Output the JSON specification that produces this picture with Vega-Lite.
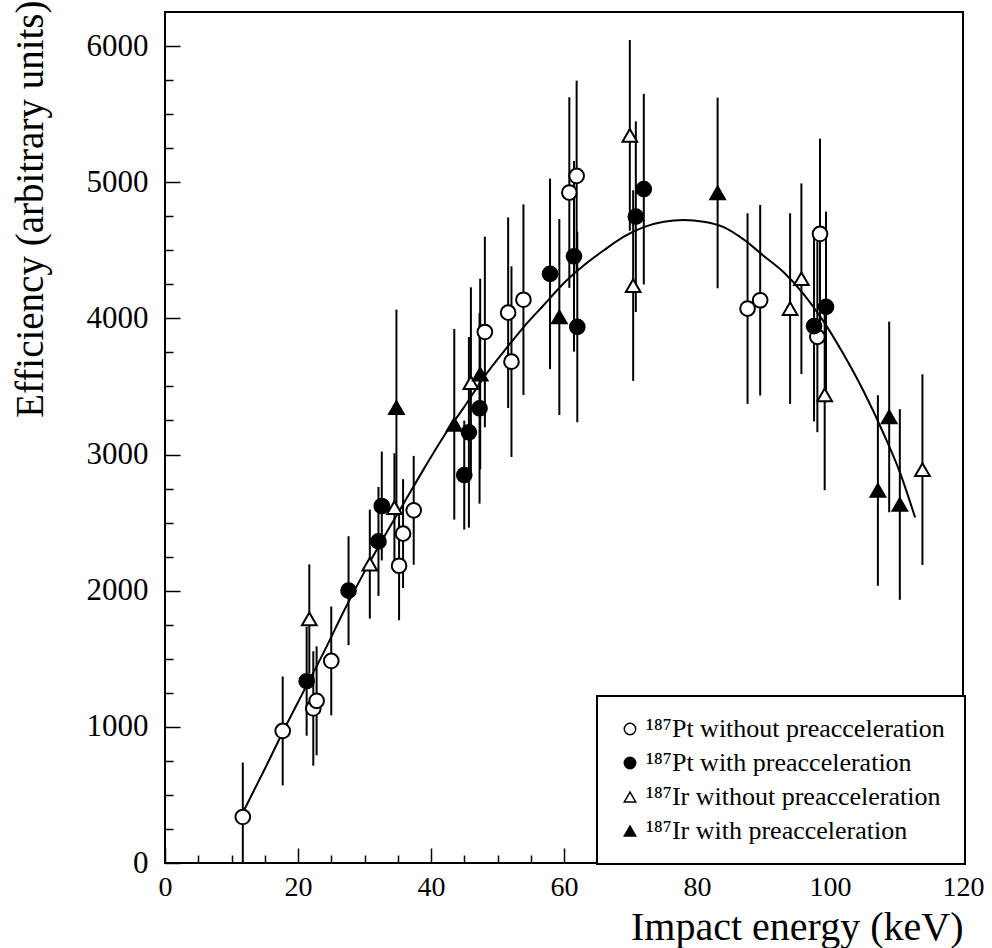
{
  "$schema": "https://vega.github.io/schema/vega-lite/v6.json",
  "width": 798,
  "height": 851,
  "autosize": {"type": "none"},
  "padding": {"left": 165, "top": 12, "right": 29, "bottom": 85},
  "background": "white",
  "config": {
    "view": {"stroke": "black", "strokeWidth": 2},
    "font": "Liberation Serif",
    "legend": {"labelFont": "Liberation Serif", "strokeWidth": 2}
  },
  "resolve": {"axis": {"x": "independent", "y": "independent"}},
  "datasets": {
    "pts": [
      {"E": 11.7, "eff": 338, "lo": -62, "hi": 738, "series": "¹⁸⁷Pt without preacceleration"},
      {"E": 17.7, "eff": 970, "lo": 570, "hi": 1370, "series": "¹⁸⁷Pt without preacceleration"},
      {"E": 22.3, "eff": 1135, "lo": 715, "hi": 1555, "series": "¹⁸⁷Pt without preacceleration"},
      {"E": 22.8, "eff": 1191, "lo": 791, "hi": 1591, "series": "¹⁸⁷Pt without preacceleration"},
      {"E": 25.0, "eff": 1484, "lo": 1084, "hi": 1884, "series": "¹⁸⁷Pt without preacceleration"},
      {"E": 35.2, "eff": 2183, "lo": 1783, "hi": 2583, "series": "¹⁸⁷Pt without preacceleration"},
      {"E": 35.8, "eff": 2419, "lo": 2019, "hi": 2819, "series": "¹⁸⁷Pt without preacceleration"},
      {"E": 37.4, "eff": 2590, "lo": 2190, "hi": 2990, "series": "¹⁸⁷Pt without preacceleration"},
      {"E": 48.1, "eff": 3900, "lo": 3200, "hi": 4600, "series": "¹⁸⁷Pt without preacceleration"},
      {"E": 51.6, "eff": 4042, "lo": 3342, "hi": 4742, "series": "¹⁸⁷Pt without preacceleration"},
      {"E": 52.1, "eff": 3682, "lo": 2982, "hi": 4382, "series": "¹⁸⁷Pt without preacceleration"},
      {"E": 53.9, "eff": 4137, "lo": 3437, "hi": 4837, "series": "¹⁸⁷Pt without preacceleration"},
      {"E": 60.8, "eff": 4924, "lo": 4224, "hi": 5624, "series": "¹⁸⁷Pt without preacceleration"},
      {"E": 61.9, "eff": 5046, "lo": 4346, "hi": 5746, "series": "¹⁸⁷Pt without preacceleration"},
      {"E": 87.6, "eff": 4072, "lo": 3372, "hi": 4772, "series": "¹⁸⁷Pt without preacceleration"},
      {"E": 89.5, "eff": 4133, "lo": 3433, "hi": 4833, "series": "¹⁸⁷Pt without preacceleration"},
      {"E": 98.5, "eff": 4620, "lo": 3920, "hi": 5320, "series": "¹⁸⁷Pt without preacceleration"},
      {"E": 98.1, "eff": 3864, "lo": 3164, "hi": 4564, "series": "¹⁸⁷Pt without preacceleration"},
      {"E": 21.3, "eff": 1335, "lo": 935, "hi": 1735, "series": "¹⁸⁷Pt with preacceleration"},
      {"E": 27.6, "eff": 2000, "lo": 1600, "hi": 2400, "series": "¹⁸⁷Pt with preacceleration"},
      {"E": 32.1, "eff": 2362, "lo": 1962, "hi": 2762, "series": "¹⁸⁷Pt with preacceleration"},
      {"E": 32.6, "eff": 2622, "lo": 2222, "hi": 3022, "series": "¹⁸⁷Pt with preacceleration"},
      {"E": 45.0, "eff": 2849, "lo": 2449, "hi": 3249, "series": "¹⁸⁷Pt with preacceleration"},
      {"E": 45.7, "eff": 3163, "lo": 2463, "hi": 3863, "series": "¹⁸⁷Pt with preacceleration"},
      {"E": 47.3, "eff": 3339, "lo": 2639, "hi": 4039, "series": "¹⁸⁷Pt with preacceleration"},
      {"E": 57.9, "eff": 4327, "lo": 3627, "hi": 5027, "series": "¹⁸⁷Pt with preacceleration"},
      {"E": 61.5, "eff": 4456, "lo": 3756, "hi": 5156, "series": "¹⁸⁷Pt with preacceleration"},
      {"E": 62.0, "eff": 3937, "lo": 3237, "hi": 4637, "series": "¹⁸⁷Pt with preacceleration"},
      {"E": 70.8, "eff": 4747, "lo": 4047, "hi": 5447, "series": "¹⁸⁷Pt with preacceleration"},
      {"E": 72.0, "eff": 4949, "lo": 4249, "hi": 5649, "series": "¹⁸⁷Pt with preacceleration"},
      {"E": 97.6, "eff": 3943, "lo": 3243, "hi": 4643, "series": "¹⁸⁷Pt with preacceleration"},
      {"E": 99.4, "eff": 4084, "lo": 3384, "hi": 4784, "series": "¹⁸⁷Pt with preacceleration"},
      {"E": 21.7, "eff": 1793, "lo": 1393, "hi": 2193, "series": "¹⁸⁷Ir without preacceleration"},
      {"E": 30.8, "eff": 2195, "lo": 1795, "hi": 2595, "series": "¹⁸⁷Ir without preacceleration"},
      {"E": 34.5, "eff": 2610, "lo": 2210, "hi": 3010, "series": "¹⁸⁷Ir without preacceleration"},
      {"E": 46.0, "eff": 3528, "lo": 2828, "hi": 4228, "series": "¹⁸⁷Ir without preacceleration"},
      {"E": 69.9, "eff": 5344, "lo": 4644, "hi": 6044, "series": "¹⁸⁷Ir without preacceleration"},
      {"E": 70.4, "eff": 4241, "lo": 3541, "hi": 4941, "series": "¹⁸⁷Ir without preacceleration"},
      {"E": 94.0, "eff": 4072, "lo": 3372, "hi": 4772, "series": "¹⁸⁷Ir without preacceleration"},
      {"E": 95.7, "eff": 4291, "lo": 3591, "hi": 4991, "series": "¹⁸⁷Ir without preacceleration"},
      {"E": 99.2, "eff": 3438, "lo": 2738, "hi": 4138, "series": "¹⁸⁷Ir without preacceleration"},
      {"E": 113.9, "eff": 2889, "lo": 2189, "hi": 3589, "series": "¹⁸⁷Ir without preacceleration"},
      {"E": 34.8, "eff": 3344, "lo": 2624, "hi": 4064, "series": "¹⁸⁷Ir with preacceleration"},
      {"E": 43.5, "eff": 3222, "lo": 2522, "hi": 3922, "series": "¹⁸⁷Ir with preacceleration"},
      {"E": 47.4, "eff": 3591, "lo": 2891, "hi": 4291, "series": "¹⁸⁷Ir with preacceleration"},
      {"E": 59.3, "eff": 4010, "lo": 3290, "hi": 4730, "series": "¹⁸⁷Ir with preacceleration"},
      {"E": 83.1, "eff": 4921, "lo": 4221, "hi": 5621, "series": "¹⁸⁷Ir with preacceleration"},
      {"E": 107.2, "eff": 2736, "lo": 2036, "hi": 3436, "series": "¹⁸⁷Ir with preacceleration"},
      {"E": 108.9, "eff": 3276, "lo": 2576, "hi": 3976, "series": "¹⁸⁷Ir with preacceleration"},
      {"E": 110.5, "eff": 2633, "lo": 1933, "hi": 3333, "series": "¹⁸⁷Ir with preacceleration"}
    ],
    "fit": [
      {"E": 11.8, "eff": 380}, {"E": 15, "eff": 690}, {"E": 18, "eff": 990},
      {"E": 21, "eff": 1275}, {"E": 24, "eff": 1560}, {"E": 27, "eff": 1860},
      {"E": 30, "eff": 2140}, {"E": 33, "eff": 2400}, {"E": 36, "eff": 2650},
      {"E": 39, "eff": 2900}, {"E": 42, "eff": 3140}, {"E": 45, "eff": 3350},
      {"E": 48, "eff": 3570}, {"E": 51, "eff": 3760}, {"E": 54, "eff": 3940},
      {"E": 57, "eff": 4100}, {"E": 60, "eff": 4260}, {"E": 63, "eff": 4390},
      {"E": 66, "eff": 4500}, {"E": 69, "eff": 4600}, {"E": 72, "eff": 4670},
      {"E": 75, "eff": 4710}, {"E": 78, "eff": 4722}, {"E": 81, "eff": 4710},
      {"E": 84, "eff": 4670}, {"E": 87, "eff": 4580}, {"E": 90, "eff": 4460},
      {"E": 93, "eff": 4340}, {"E": 96, "eff": 4180}, {"E": 99, "eff": 3980},
      {"E": 102, "eff": 3740}, {"E": 105, "eff": 3470}, {"E": 108, "eff": 3160},
      {"E": 110.5, "eff": 2870}, {"E": 112.8, "eff": 2537}
    ]
  },
  "layer": [
    {
      "data": {"name": "pts"},
      "mark": {"type": "rule", "color": "black", "strokeWidth": 2, "clip": true},
      "encoding": {
        "x": {
          "field": "E", "type": "quantitative", "title": "Impact energy (keV)",
          "scale": {"domain": [0, 120], "nice": false, "zero": false},
          "axis": {
            "orient": "bottom",
            "values": [0, 20, 40, 60, 80, 100, 120],
            "format": "d",
            "grid": false, "ticks": true, "domain": false, "offset": -15,
            "tickColor": "black", "tickWidth": 1.5, "tickSize": 15,
            "labelFont": "Liberation Serif", "labelFontSize": 28, "labelColor": "black",
            "labelPadding": 10, "labelOverlap": false, "labelFlush": false,
            "titleFont": "Liberation Serif", "titleFontSize": 40, "titleFontWeight": "normal", "titleColor": "black",
            "titleX": 798, "titleY": 91, "titleAlign": "right", "titleBaseline": "alphabetic", "titleAnchor": "end"
          }
        },
        "y": {
          "field": "lo", "type": "quantitative", "title": "Efficiency (arbitrary units)",
          "scale": {"domain": [0, 6250], "nice": false, "zero": false},
          "axis": {
            "orient": "left",
            "values": [0, 1000, 2000, 3000, 4000, 5000, 6000],
            "format": "d",
            "grid": false, "ticks": true, "domain": false, "offset": -15,
            "tickColor": "black", "tickWidth": 1.5, "tickSize": 15,
            "labelFont": "Liberation Serif", "labelFontSize": 31, "labelColor": "black",
            "labelPadding": 17, "labelOverlap": false, "labelFlush": false,
            "titleFont": "Liberation Serif", "titleFontSize": 39, "titleFontWeight": "normal", "titleColor": "black",
            "titleX": -150, "titleY": -12, "titleAngle": -90, "titleAlign": "right", "titleBaseline": "middle"
          }
        },
        "y2": {"field": "hi"}
      }
    },
    {
      "data": {"name": "fit"},
      "mark": {"type": "line", "color": "black", "strokeWidth": 2, "interpolate": "monotone", "clip": true},
      "encoding": {
        "x": {
          "field": "E", "type": "quantitative",
          "axis": {
            "orient": "bottom",
            "values": [5, 10, 15, 25, 30, 35, 45, 50, 55, 65, 70, 75, 85, 90, 95, 105, 110, 115],
            "title": null, "labels": false, "grid": false, "domain": false, "ticks": true, "offset": -8,
            "tickColor": "black", "tickWidth": 1.5, "tickSize": 8
          }
        },
        "y": {
          "field": "eff", "type": "quantitative",
          "axis": {
            "orient": "left",
            "values": [250, 500, 750, 1250, 1500, 1750, 2250, 2500, 2750, 3250, 3500, 3750, 4250, 4500, 4750, 5250, 5500, 5750],
            "title": null, "labels": false, "grid": false, "domain": false, "ticks": true, "offset": -8,
            "tickColor": "black", "tickWidth": 1.5, "tickSize": 8
          }
        }
      }
    },
    {
      "data": {"name": "pts"},
      "mark": {"type": "point", "filled": true, "strokeWidth": 2, "size": 215, "opacity": 1},
      "encoding": {
        "x": {"field": "E", "type": "quantitative", "axis": null},
        "y": {"field": "eff", "type": "quantitative", "axis": null},
        "shape": {
          "field": "series", "type": "nominal",
          "scale": {
            "domain": ["¹⁸⁷Pt without preacceleration", "¹⁸⁷Pt with preacceleration", "¹⁸⁷Ir without preacceleration", "¹⁸⁷Ir with preacceleration"],
            "range": ["circle", "circle", "triangle-up", "triangle-up"]
          },
          "legend": {
            "title": null, "orient": "none", "legendX": 432, "legendY": 684,
            "padding": 20, "rowPadding": 8, "symbolSize": 130, "symbolStrokeWidth": 1.5,
            "labelFont": "Liberation Serif", "labelFontSize": 26, "labelColor": "black", "labelOffset": 3, "labelLimit": 400,
            "strokeColor": "black", "fillColor": "white"
          }
        },
        "fill": {
          "field": "series", "type": "nominal",
          "scale": {
            "domain": ["¹⁸⁷Pt without preacceleration", "¹⁸⁷Pt with preacceleration", "¹⁸⁷Ir without preacceleration", "¹⁸⁷Ir with preacceleration"],
            "range": ["white", "black", "white", "black"]
          },
          "legend": {
            "title": null, "orient": "none", "legendX": 432, "legendY": 684,
            "padding": 20, "rowPadding": 8, "symbolSize": 130, "symbolStrokeWidth": 1.5,
            "labelFont": "Liberation Serif", "labelFontSize": 26, "labelColor": "black", "labelOffset": 3, "labelLimit": 400,
            "strokeColor": "black", "fillColor": "white"
          }
        },
        "stroke": {
          "field": "series", "type": "nominal",
          "scale": {
            "domain": ["¹⁸⁷Pt without preacceleration", "¹⁸⁷Pt with preacceleration", "¹⁸⁷Ir without preacceleration", "¹⁸⁷Ir with preacceleration"],
            "range": ["black", "black", "black", "black"]
          },
          "legend": {
            "title": null, "orient": "none", "legendX": 432, "legendY": 684,
            "padding": 20, "rowPadding": 8, "symbolSize": 130, "symbolStrokeWidth": 1.5,
            "labelFont": "Liberation Serif", "labelFontSize": 26, "labelColor": "black", "labelOffset": 3, "labelLimit": 400,
            "strokeColor": "black", "fillColor": "white"
          }
        }
      }
    }
  ]
}
